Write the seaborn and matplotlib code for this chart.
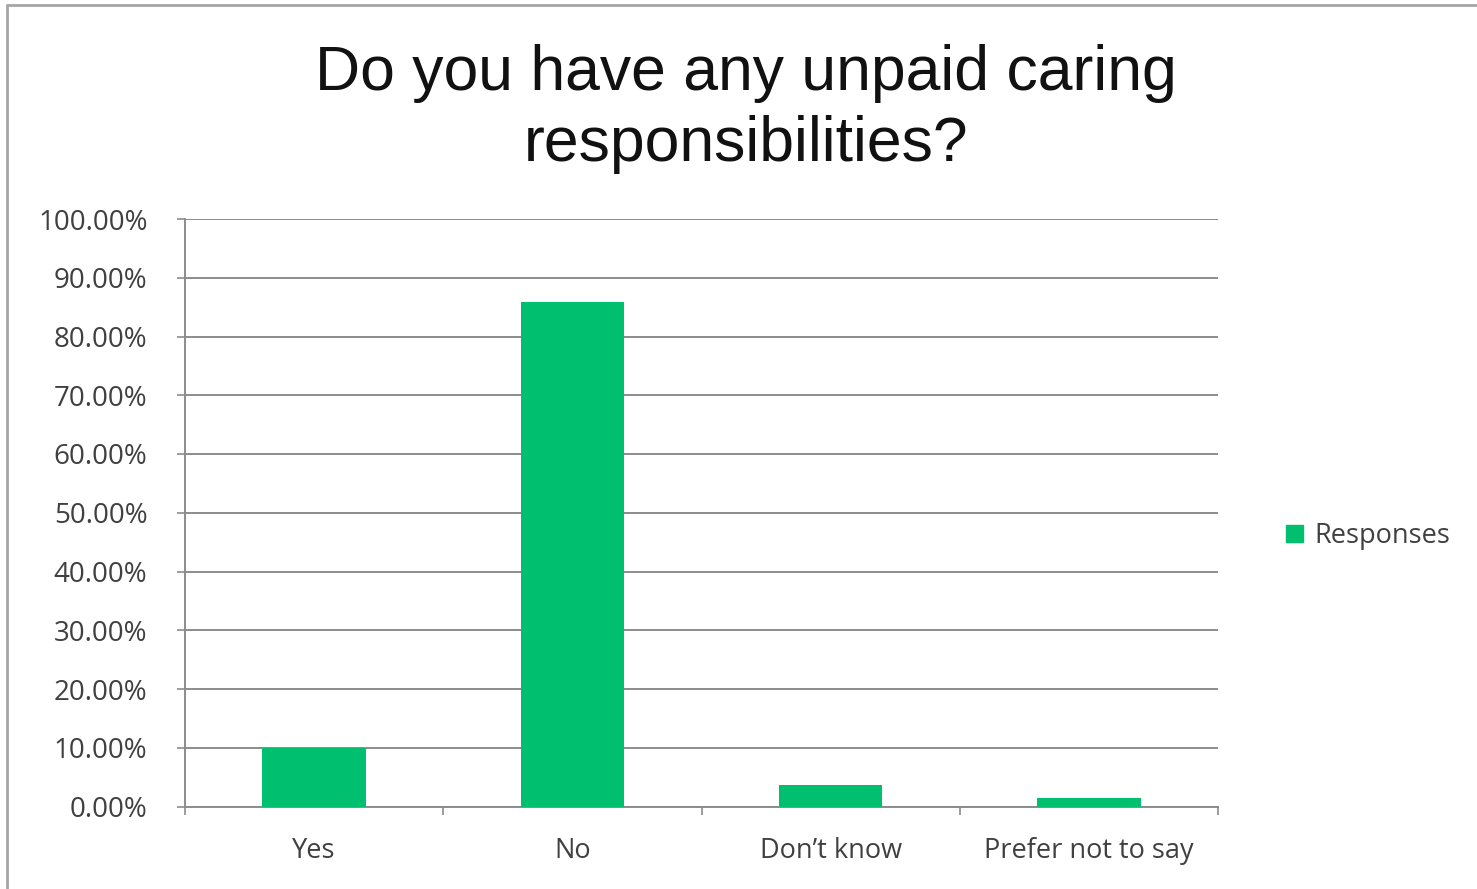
import matplotlib
matplotlib.use("Agg")
import matplotlib.pyplot as plt
import matplotlib.patches as mpatches
from matplotlib.ticker import FixedLocator, PercentFormatter
import seaborn as sns
import pandas as pd

categories = ["Yes", "No", "Don\u2019t know", "Prefer not to say"]
responses = [10.0, 85.8, 3.7, 1.4]
y_ticks = [0, 10, 20, 30, 40, 50, 60, 70, 80, 90, 100]

BAR = "#00BF6F"
GRID = "#8c8c8c"
TEXT = "#404040"

sns.set_theme(style="white")
plt.rcParams["font.family"] = ["Open Sans", "DejaVu Sans"]

df = pd.DataFrame({"category": categories, "value": responses})

fig = plt.figure(figsize=(14.77, 8.89), dpi=100)
ax = fig.add_axes([185 / 1477, 1 - 806.5 / 889, (1218 - 185) / 1477, (806.5 - 219) / 889])

sns.barplot(data=df, x="category", y="value", color=BAR, width=0.4,
            saturation=1, linewidth=0, ax=ax, zorder=3)

ax.set_xlim(-0.5, 3.5)
ax.set_ylim(0, 100)
ax.yaxis.set_major_locator(FixedLocator(y_ticks))
ax.yaxis.set_major_formatter(PercentFormatter(decimals=2))
ax.grid(axis="y", color=GRID, linewidth=1.4, zorder=0)
ax.set_xlabel("")
ax.set_ylabel("")

for side in ("top", "right"):
    ax.spines[side].set_visible(False)
for side in ("left", "bottom"):
    ax.spines[side].set_color(GRID)
    ax.spines[side].set_linewidth(1.4)

ax.tick_params(axis="y", which="major", direction="out", length=6, width=1.2,
               color=GRID, pad=21, labelsize=20, labelcolor=TEXT, left=True)
ax.tick_params(axis="x", which="major", length=0, pad=22,
               labelsize=19.5, labelcolor=TEXT)
ax.xaxis.set_minor_locator(FixedLocator([-0.5, 0.5, 1.5, 2.5, 3.5]))
ax.tick_params(axis="x", which="minor", direction="out", length=6, width=1.2,
               color=GRID, bottom=True)

fig.text(746 / 1477, 1 - 109 / 889, "Do you have any unpaid caring\nresponsibilities?",
         ha="center", va="center", fontsize=45, color="#111111",
         family=["Liberation Sans", "DejaVu Sans"], linespacing=1.27)

handle = mpatches.Patch(color=BAR, label="Responses")
fig.legend(handles=[handle], loc="center left",
           bbox_to_anchor=(1262 / 1477, 1 - 536 / 889), frameon=False,
           fontsize=19.5, handlelength=0.6, handleheight=0.6, handletextpad=0.45,
           labelcolor=TEXT)

# chart frame (left and top edges)
fig.add_artist(plt.Line2D([7 / 1477, 7 / 1477], [0, 1 - 5 / 889],
                          transform=fig.transFigure, color="#a6a6a6", linewidth=2))
fig.add_artist(plt.Line2D([7 / 1477, 1], [1 - 5 / 889, 1 - 5 / 889],
                          transform=fig.transFigure, color="#a6a6a6", linewidth=2))

fig.savefig("out.png", dpi=100, facecolor="white")
